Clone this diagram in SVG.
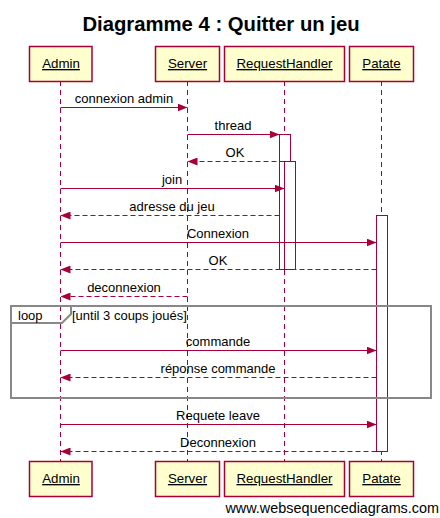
<svg xmlns="http://www.w3.org/2000/svg" width="440" height="518" viewBox="0 0 440 518">
<style>
.t{font-family:"Liberation Sans",Arial,sans-serif;font-size:13px;fill:#000}
.m{font-family:"Liberation Sans",Arial,sans-serif;font-size:13px;fill:#000;text-anchor:middle}
.box{fill:#fefece;stroke:#a80036;stroke-width:1.5}
.pt{font-family:"Liberation Sans",Arial,sans-serif;font-size:13.3px;fill:#000;text-anchor:middle;text-decoration:underline}
.life{stroke:#a80036;stroke-width:1;stroke-dasharray:5,4;fill:none}
.msg{stroke:#a80036;stroke-width:1;fill:none}
.ret{stroke:#a80036;stroke-width:1;stroke-dasharray:5,3;fill:none}
.act{fill:#fff;stroke:#a80036;stroke-width:1}
.frame{fill:none;stroke:#888;stroke-width:2}
</style>
<defs>
<marker id="ah" viewBox="0 0 10 8" refX="10" refY="4" markerWidth="10" markerHeight="8" markerUnits="userSpaceOnUse" orient="auto">
<path d="M0,0 L10,4 L0,8 Z" fill="#a80036"/>
</marker>
</defs>
<text x="221" y="31" font-family="Liberation Sans,Arial,sans-serif" font-size="20.3" font-weight="bold" text-anchor="middle">Diagramme 4 : Quitter un jeu</text>
<g id="lifelines">
<line class="life" x1="60.5" y1="81" x2="60.5" y2="461"/>
<line class="life" x1="187.5" y1="81" x2="187.5" y2="461"/>
<line class="life" x1="284.5" y1="81" x2="284.5" y2="461"/>
<line class="life" x1="381.5" y1="81" x2="381.5" y2="461"/>
</g>
<g id="activations">
<rect class="act" x="279.5" y="134.5" width="11" height="135"/>
<rect class="act" x="284.5" y="161.5" width="11" height="108"/>
<rect class="act" x="376.5" y="215.5" width="11" height="236"/>
</g>
<g id="loop">
<rect class="frame" x="11" y="306" width="420" height="92"/>
<path class="frame" d="M11,323 L62,323 L71,314 L71,306"/>
<text class="t" x="18" y="320">loop</text>
<text class="t" x="72" y="320">[until 3 coups joués]</text>
</g>
<g id="connectors">
<line class="msg" x1="60.5" y1="107.5" x2="187.5" y2="107.5" marker-end="url(#ah)"/>
<text class="m" x="124" y="103">connexion admin</text>
<line class="msg" x1="187.5" y1="134.5" x2="279.5" y2="134.5" marker-end="url(#ah)"/>
<text class="m" x="233" y="130">thread</text>
<line class="ret" x1="284.5" y1="161.5" x2="187.5" y2="161.5" marker-end="url(#ah)"/>
<text class="m" x="235" y="157">OK</text>
<line class="msg" x1="60.5" y1="188.5" x2="284.5" y2="188.5" marker-end="url(#ah)"/>
<text class="m" x="172" y="184">join</text>
<line class="ret" x1="279.5" y1="215.5" x2="60.5" y2="215.5" marker-end="url(#ah)"/>
<text class="m" x="172" y="211">adresse du jeu</text>
<line class="msg" x1="60.5" y1="242.5" x2="376.5" y2="242.5" marker-end="url(#ah)"/>
<text class="m" x="218" y="238">Connexion</text>
<line class="ret" x1="376.5" y1="269.5" x2="60.5" y2="269.5" marker-end="url(#ah)"/>
<text class="m" x="218" y="265">OK</text>
<line class="ret" x1="187.5" y1="296.5" x2="60.5" y2="296.5" marker-end="url(#ah)"/>
<text class="m" x="124" y="292">deconnexion</text>
<line class="msg" x1="60.5" y1="350.5" x2="376.5" y2="350.5" marker-end="url(#ah)"/>
<text class="m" x="218" y="346">commande</text>
<line class="ret" x1="376.5" y1="377.5" x2="60.5" y2="377.5" marker-end="url(#ah)"/>
<text class="m" x="218" y="373">réponse commande</text>
<line class="msg" x1="60.5" y1="424.5" x2="376.5" y2="424.5" marker-end="url(#ah)"/>
<text class="m" x="218" y="420">Requete leave</text>
<line class="ret" x1="376.5" y1="451.5" x2="60.5" y2="451.5" marker-end="url(#ah)"/>
<text class="m" x="218" y="447">Deconnexion</text>
</g>
<g id="admin-top"><rect class="box" x="29.5" y="46.5" width="62.5" height="35"/><text class="pt" x="61" y="68">Admin</text></g>
<g id="server-top"><rect class="box" x="155.5" y="46.5" width="64" height="35"/><text class="pt" x="187.5" y="68">Server</text></g>
<g id="requesthandler-top"><rect class="box" x="224.5" y="46.5" width="120" height="35"/><text class="pt" x="284.5" y="68">RequestHandler</text></g>
<g id="patate-top"><rect class="box" x="349.5" y="46.5" width="64" height="35"/><text class="pt" x="381.5" y="68">Patate</text></g>
<g id="admin-bottom"><rect class="box" x="29.5" y="461.5" width="62.5" height="35"/><text class="pt" x="61" y="483">Admin</text></g>
<g id="server-bottom"><rect class="box" x="155.5" y="461.5" width="64" height="35"/><text class="pt" x="187.5" y="483">Server</text></g>
<g id="requesthandler-bottom"><rect class="box" x="224.5" y="461.5" width="120" height="35"/><text class="pt" x="284.5" y="483">RequestHandler</text></g>
<g id="patate-bottom"><rect class="box" x="349.5" y="461.5" width="64" height="35"/><text class="pt" x="381.5" y="483">Patate</text></g>
<text x="439" y="513" font-family="Liberation Sans,Arial,sans-serif" font-size="14.4" text-anchor="end">www.websequencediagrams.com</text>
</svg>
